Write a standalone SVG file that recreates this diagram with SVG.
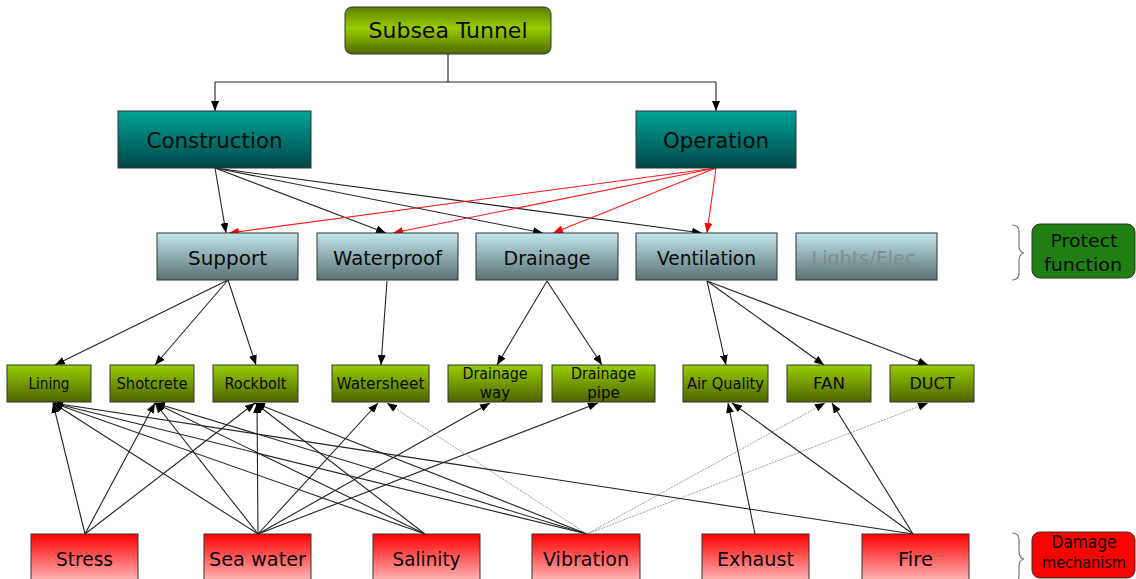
<svg xmlns="http://www.w3.org/2000/svg" width="1136" height="579" viewBox="0 0 1136 579">
<defs>
<linearGradient id="gTop" x1="0" y1="0" x2="0" y2="1">
<stop offset="0" stop-color="#5e7f00"/><stop offset="0.45" stop-color="#99cc00"/><stop offset="1" stop-color="#4f6a00"/>
</linearGradient>
<linearGradient id="gTeal" x1="0" y1="0" x2="0" y2="1">
<stop offset="0" stop-color="#00a39b"/><stop offset="1" stop-color="#004645"/>
</linearGradient>
<linearGradient id="gBlue" x1="0" y1="0" x2="0" y2="1">
<stop offset="0" stop-color="#c2e6ea"/><stop offset="1" stop-color="#5a7173"/>
</linearGradient>
<linearGradient id="gGreen" x1="0" y1="0" x2="0" y2="1">
<stop offset="0" stop-color="#9acd00"/><stop offset="1" stop-color="#4c6500"/>
</linearGradient>
<linearGradient id="gRed" x1="0" y1="0" x2="0" y2="1">
<stop offset="0" stop-color="#ff0000"/><stop offset="1" stop-color="#ffcccc"/>
</linearGradient>
<marker id="ab" markerUnits="userSpaceOnUse" markerWidth="10" markerHeight="8" refX="10" refY="4" orient="auto">
<path d="M0,0 L10,4 L0,8 z" fill="#000"/>
</marker>
<marker id="ar" markerUnits="userSpaceOnUse" markerWidth="10" markerHeight="8" refX="10" refY="4" orient="auto">
<path d="M0,0 L10,4 L0,8 z" fill="#ff0000"/>
</marker>
</defs>
<style>
text{font-family:"DejaVu Sans","Liberation Sans",sans-serif;text-anchor:middle;fill:#0a0a0a}
.box{stroke:#333;stroke-width:1}
.t1{font-size:22px}
.t2{font-size:20px}
.t3{font-size:15px}
.t4{font-size:20px}
.side{font-size:17px}
.c{fill:none;stroke:#222;stroke-width:1.1;marker-end:url(#ab)}
.r{fill:none;stroke:#ff1a1a;stroke-width:1.1;marker-end:url(#ar)}
.d{fill:none;stroke:#a0a0a0;stroke-width:1;stroke-dasharray:2 1;marker-end:url(#ab)}
.l{fill:none;stroke:#222;stroke-width:1.1}
.brace{fill:none;stroke:#777;stroke-width:1.2}
</style>

<g id="connectors">
<path class="l" d="M448,54 V82 M215,82 H716"/>
<path class="c" d="M215,82 V111"/>
<path class="c" d="M716,82 V111"/>
<path class="c" d="M215,168 L226,233"/>
<path class="c" d="M215,168 L386,233"/>
<path class="c" d="M215,168 L543,233"/>
<path class="c" d="M215,168 L702,233"/>
<path class="r" d="M716,168 L229,233"/>
<path class="r" d="M716,168 L393,233"/>
<path class="r" d="M716,168 L553,233"/>
<path class="r" d="M716,168 L707,233"/>
<path class="c" d="M228,280 L55,365"/>
<path class="c" d="M228,280 L155,365"/>
<path class="c" d="M228,280 L256,365"/>
<path class="c" d="M387,281 L381,365"/>
<path class="c" d="M547,281 L497,365"/>
<path class="c" d="M547,281 L602,365"/>
<path class="c" d="M707,281 L726,365"/>
<path class="c" d="M707,281 L824,365"/>
<path class="c" d="M707,281 L928,365"/>
<path class="c" d="M85,534 L53,403"/>
<path class="c" d="M85,534 L155,403"/>
<path class="c" d="M85,534 L255,403"/>
<path class="c" d="M258,534 L53,403"/>
<path class="c" d="M258,534 L155,403"/>
<path class="c" d="M258,534 L257,403"/>
<path class="c" d="M258,534 L378,403"/>
<path class="c" d="M258,534 L490,403"/>
<path class="c" d="M258,534 L598,403"/>
<path class="c" d="M425,534 L53,403"/>
<path class="c" d="M425,534 L155,403"/>
<path class="c" d="M425,534 L255,403"/>
<path class="c" d="M587,534 L53,403"/>
<path class="c" d="M587,534 L155,403"/>
<path class="c" d="M587,534 L255,403"/>
<path class="d" d="M587,534 L387,403"/>
<path class="d" d="M587,534 L825,403"/>
<path class="d" d="M587,534 L928,403"/>
<path class="c" d="M755,534 L728,403"/>
<path class="c" d="M913,534 L53,403"/>
<path class="c" d="M913,534 L732,403"/>
<path class="c" d="M913,534 L832,403"/>
</g>

<g id="subsea-tunnel"><rect class="box" x="345" y="7" width="206" height="47" rx="7" fill="url(#gTop)"/><text class="t1" x="448" y="38" textLength="159" lengthAdjust="spacingAndGlyphs">Subsea Tunnel</text></g>

<g id="construction"><rect class="box" x="118" y="111" width="193" height="57" fill="url(#gTeal)"/><text class="t1" x="214.5" y="148" textLength="136" lengthAdjust="spacingAndGlyphs">Construction</text></g>
<g id="operation"><rect class="box" x="636" y="111" width="160" height="57" fill="url(#gTeal)"/><text class="t1" x="716" y="148" textLength="106" lengthAdjust="spacingAndGlyphs">Operation</text></g>

<g id="support"><rect class="box" x="157" y="233" width="141" height="47" fill="url(#gBlue)"/><text class="t2" x="227.5" y="265" textLength="79" lengthAdjust="spacingAndGlyphs">Support</text></g>
<g id="waterproof"><rect class="box" x="317" y="233" width="141" height="47" fill="url(#gBlue)"/><text class="t2" x="387.5" y="265" textLength="109" lengthAdjust="spacingAndGlyphs">Waterproof</text></g>
<g id="drainage"><rect class="box" x="476" y="233" width="142" height="47" fill="url(#gBlue)"/><text class="t2" x="547" y="265" textLength="87" lengthAdjust="spacingAndGlyphs">Drainage</text></g>
<g id="ventilation"><rect class="box" x="636" y="233" width="141" height="47" fill="url(#gBlue)"/><text class="t2" x="706.5" y="265" textLength="99" lengthAdjust="spacingAndGlyphs">Ventilation</text></g>
<g id="lights-elec"><rect class="box" x="796" y="233" width="141" height="47" fill="url(#gBlue)"/><text class="t2" x="866.5" y="265" textLength="110" lengthAdjust="spacingAndGlyphs" style="fill:#868c8c">Lights/Elec.</text></g>

<g id="lining"><rect class="box" x="7" y="365" width="84" height="37" fill="url(#gGreen)"/><text class="t3" x="49" y="389" textLength="41" lengthAdjust="spacingAndGlyphs">Lining</text></g>
<g id="shotcrete"><rect class="box" x="110" y="365" width="84" height="37" fill="url(#gGreen)"/><text class="t3" x="152" y="389" textLength="71" lengthAdjust="spacingAndGlyphs">Shotcrete</text></g>
<g id="rockbolt"><rect class="box" x="213" y="365" width="85" height="37" fill="url(#gGreen)"/><text class="t3" x="255.5" y="389" textLength="62" lengthAdjust="spacingAndGlyphs">Rockbolt</text></g>
<g id="watersheet"><rect class="box" x="332" y="365" width="97" height="37" fill="url(#gGreen)"/><text class="t3" x="380.5" y="389" textLength="88" lengthAdjust="spacingAndGlyphs">Watersheet</text></g>
<g id="drainage-way"><rect class="box" x="448" y="365" width="94" height="37" fill="url(#gGreen)"/><text class="t3" x="495" y="379" textLength="65" lengthAdjust="spacingAndGlyphs">Drainage</text><text class="t3" x="495" y="398">way</text></g>
<g id="drainage-pipe"><rect class="box" x="552" y="365" width="103" height="37" fill="url(#gGreen)"/><text class="t3" x="603.5" y="379" textLength="65" lengthAdjust="spacingAndGlyphs">Drainage</text><text class="t3" x="603.5" y="398">pipe</text></g>
<g id="air-quality"><rect class="box" x="683" y="365" width="85" height="37" fill="url(#gGreen)"/><text class="t3" x="725.5" y="389" textLength="77" lengthAdjust="spacingAndGlyphs">Air Quality</text></g>
<g id="fan"><rect class="box" x="787" y="365" width="84" height="37" fill="url(#gGreen)"/><text class="t3" x="829" y="389" textLength="32" lengthAdjust="spacingAndGlyphs">FAN</text></g>
<g id="duct"><rect class="box" x="890" y="365" width="84" height="37" fill="url(#gGreen)"/><text class="t3" x="932" y="389" textLength="45" lengthAdjust="spacingAndGlyphs">DUCT</text></g>

<g id="stress"><rect class="box" x="31" y="534" width="107" height="52" fill="url(#gRed)"/><text class="t4" x="84.5" y="566" textLength="57" lengthAdjust="spacingAndGlyphs">Stress</text></g>
<g id="sea-water"><rect class="box" x="204" y="534" width="107" height="52" fill="url(#gRed)"/><text class="t4" x="257.5" y="566" textLength="97" lengthAdjust="spacingAndGlyphs">Sea water</text></g>
<g id="salinity"><rect class="box" x="373" y="534" width="107" height="52" fill="url(#gRed)"/><text class="t4" x="426.5" y="566" textLength="68" lengthAdjust="spacingAndGlyphs">Salinity</text></g>
<g id="vibration"><rect class="box" x="532" y="534" width="108" height="52" fill="url(#gRed)"/><text class="t4" x="586" y="566" textLength="86" lengthAdjust="spacingAndGlyphs">Vibration</text></g>
<g id="exhaust"><rect class="box" x="702" y="534" width="107" height="52" fill="url(#gRed)"/><text class="t4" x="755.5" y="566" textLength="77" lengthAdjust="spacingAndGlyphs">Exhaust</text></g>
<g id="fire"><rect class="box" x="862" y="534" width="107" height="52" fill="url(#gRed)"/><text class="t4" x="915.5" y="566" textLength="35" lengthAdjust="spacingAndGlyphs">Fire</text></g>

<g id="protect-function">
<path class="brace" d="M1012,225 Q1019,225 1019,232 V246 Q1019,252 1024,253 Q1019,254 1019,260 V273 Q1019,280 1012,280"/>
<rect class="box" x="1032" y="224" width="103" height="54" rx="8" fill="#1f7f12"/>
<text class="side" x="1084" y="247" textLength="67" lengthAdjust="spacingAndGlyphs">Protect</text>
<text class="side" x="1083" y="271" textLength="78" lengthAdjust="spacingAndGlyphs">function</text>
</g>
<g id="damage-mechanism">
<path class="brace" d="M1012,533 Q1019,533 1019,540 V552 Q1019,558 1024,559 Q1019,560 1019,566 V576 Q1019,583 1012,583"/>
<rect class="box" x="1032" y="532" width="103" height="46" rx="8" fill="#ff0000"/>
<text class="side" x="1084" y="548" textLength="65" lengthAdjust="spacingAndGlyphs">Damage</text>
<text class="side" x="1084" y="568" style="font-size:16px" textLength="84" lengthAdjust="spacingAndGlyphs">mechanism</text>
</g>
</svg>
